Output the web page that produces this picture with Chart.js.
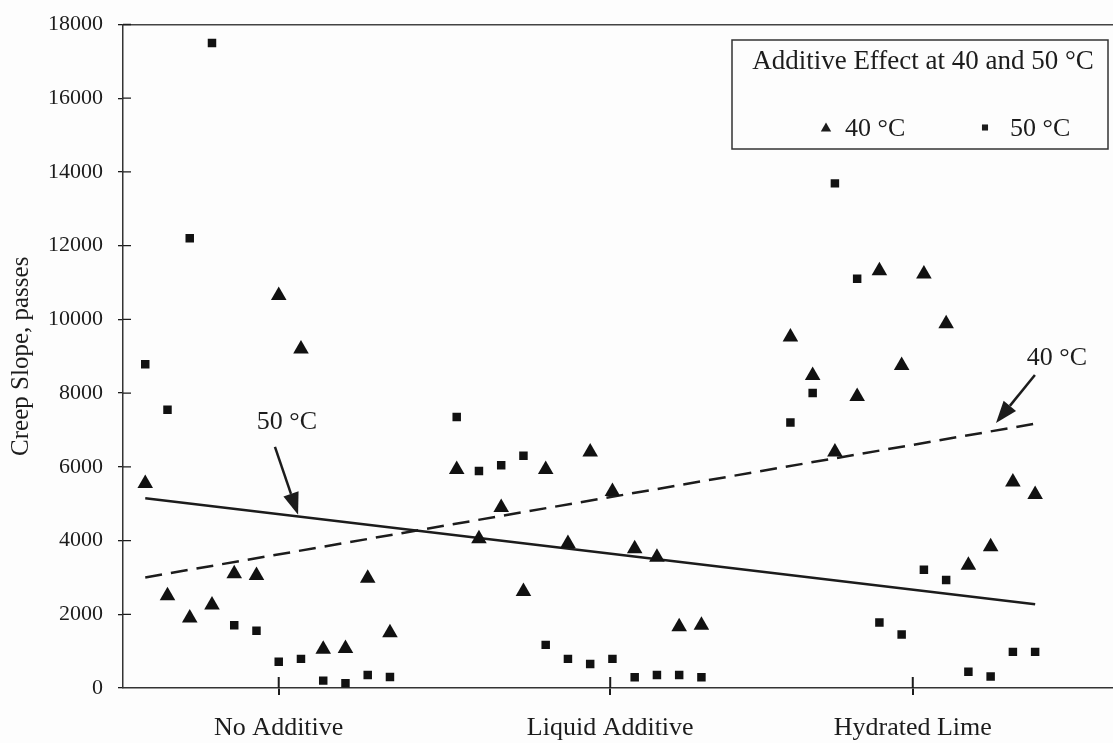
<!DOCTYPE html>
<html>
<head>
<meta charset="utf-8">
<script src="https://cdn.jsdelivr.net/npm/chart.js@4.4.1/dist/chart.umd.min.js"></script>
<style>
  html, body { margin: 0; padding: 0; background: #fdfdfd; overflow: hidden; }
  #wrap { width: 1113px; height: 743px; position: relative; }
  #creepChart { display: block; }
</style>
</head>
<body>
<div id="wrap"><canvas id="creepChart"></canvas></div>
<script>
// sample order along the x axis, three groups of twelve mixes
var groupNames = ['No Additive', 'Liquid Additive', 'Hydrated Lime'];
var groupTicks = [7, 21.9, 35.5];
var sampleX = [1, 2, 3, 4, 5, 6, 7, 8, 9, 10, 11, 12,
               15, 16, 17, 18, 19, 20, 21, 22, 23, 24, 25, 26,
               30, 31, 32, 33, 34, 35, 36, 37, 38, 39, 40, 41];

// creep slope (passes)
var creep40 = [5550, 2500, 1900, 2250, 3100, 3050, 10650, 9200, 1050, 1070, 2980, 1500,
               5930, 4050, 4900, 2620, 5930, 3920, 6400, 5330, 3780, 3550, 1660, 1700,
               9520, 8480, 6400, 7910, 11320, 8750, 11230, 9880, 3330, 3830, 5590, 5250];
var creep50 = [8780, 7550, 12200, 17500, 1700, 1550, 710, 790, 200, 130, 350, 300,
               7350, 5890, 6040, 6300, 1170, 790, 650, 790, 290, 350, 350, 290,
               7200, 8000, 13690, 11100, 1780, 1450, 3210, 2930, 440, 310, 980, 980];

// linear trend lines, end points
var trendX = [1, 41];
var trend40 = [3000, 7170];
var trend50 = [5150, 2270];

var seriesNames = ['40 °C', '50 °C'];
var legendTitle = 'Additive Effect at 40 and 50 °C';

// arrow labels pointing at the trend lines (data coordinates)
var callouts = [
  { text: '50 °C', at: [7.37, 7220], from: [6.83, 6540], to: [7.87, 4700] },
  { text: '40 °C', at: [41.98, 8955], from: [40.99, 8490], to: [39.24, 7190] }
];

var serif = '"Liberation Serif", "Times New Roman", serif';
var ink = '#1c1c1c';

function toPoints(xs, ys) {
  return xs.map(function(x, i) { return { x: x, y: ys[i] }; });
}

// keep the plot area fixed: no extra room reserved for edge labels
function noEdgePadding(scale) {
  scale.paddingTop = 0;
  scale.paddingBottom = 0;
  scale.paddingLeft = 0;
  scale.paddingRight = 0;
}

// tick marks that also cross into the plot area
var innerTicks = {
  id: 'innerTicks',
  afterDraw: function(chart) {
    var ctx = chart.ctx, area = chart.chartArea;
    var xs = chart.scales.x, ys = chart.scales.y;
    ctx.save();
    ctx.strokeStyle = ink;
    ctx.beginPath();
    ctx.lineWidth = 1.3;
    ys.ticks.forEach(function(t) {
      if (t.value === 0) return;
      var py = ys.getPixelForValue(t.value);
      ctx.moveTo(area.left, py);
      ctx.lineTo(area.left + 8, py);
    });
    ctx.stroke();
    ctx.beginPath();
    ctx.lineWidth = 2;
    xs.ticks.forEach(function(t) {
      var px = xs.getPixelForValue(t.value);
      ctx.moveTo(px, area.bottom);
      ctx.lineTo(px, area.bottom - 11);
    });
    ctx.stroke();
    ctx.restore();
  }
};

function arrow(ctx, x1, y1, x2, y2) {
  var ang = Math.atan2(y2 - y1, x2 - x1), len = 22, half = 8;
  var bx = x2 - Math.cos(ang) * len, by = y2 - Math.sin(ang) * len;
  ctx.beginPath();
  ctx.moveTo(x1, y1);
  ctx.lineTo(bx, by);
  ctx.stroke();
  ctx.beginPath();
  ctx.moveTo(x2, y2);
  ctx.lineTo(bx + Math.sin(ang) * half, by - Math.cos(ang) * half);
  ctx.lineTo(bx - Math.sin(ang) * half, by + Math.cos(ang) * half);
  ctx.closePath();
  ctx.fill();
}

var calloutLabels = {
  id: 'calloutLabels',
  afterDatasetsDraw: function(chart) {
    var ctx = chart.ctx, xs = chart.scales.x, ys = chart.scales.y;
    ctx.save();
    ctx.fillStyle = ink;
    ctx.strokeStyle = ink;
    ctx.lineWidth = 2.5;
    ctx.font = '26px ' + serif;
    ctx.textAlign = 'center';
    ctx.textBaseline = 'middle';
    callouts.forEach(function(c) {
      ctx.fillText(c.text, xs.getPixelForValue(c.at[0]), ys.getPixelForValue(c.at[1]));
      arrow(ctx,
        xs.getPixelForValue(c.from[0]), ys.getPixelForValue(c.from[1]),
        xs.getPixelForValue(c.to[0]), ys.getPixelForValue(c.to[1]));
    });
    ctx.restore();
  }
};

// boxed legend in the upper right corner of the plot
var legendBox = {
  id: 'legendBox',
  afterDraw: function(chart) {
    var ctx = chart.ctx, area = chart.chartArea;
    var w = 376, h = 109;
    var left = area.right - 381, top = area.top + 15.5;
    var sets = chart.data.datasets;
    ctx.save();
    ctx.fillStyle = '#fdfdfd';
    ctx.fillRect(left, top, w, h);
    ctx.strokeStyle = '#333';
    ctx.lineWidth = 1.5;
    ctx.strokeRect(left, top, w, h);

    ctx.fillStyle = ink;
    ctx.font = '27px ' + serif;
    ctx.textBaseline = 'alphabetic';
    ctx.textAlign = 'center';
    ctx.fillText(legendTitle, left + w / 2 + 3, top + 29);

    ctx.font = '26px ' + serif;
    ctx.textAlign = 'left';
    var items = [
      { ds: sets[0], mx: 94, tx: 113, r: 6, my: 88.5 },
      { ds: sets[1], mx: 253, tx: 278, r: 4.3, my: 87.5 }
    ];
    items.forEach(function(it) {
      Chart.helpers.drawPoint(ctx, { pointStyle: it.ds.pointStyle, radius: it.r, rotation: 0 },
        left + it.mx, top + it.my);
      ctx.fillText(it.ds.label, left + it.tx, top + 96);
    });
    ctx.restore();
  }
};

new Chart(document.getElementById('creepChart'), {
  type: 'scatter',
  data: {
    datasets: [
      {
        label: seriesNames[0],
        data: toPoints(sampleX, creep40),
        pointStyle: 'triangle',
        pointRadius: 9,
        backgroundColor: '#111',
        borderColor: '#111',
        borderWidth: 0
      },
      {
        label: seriesNames[1],
        data: toPoints(sampleX, creep50),
        pointStyle: 'rect',
        pointRadius: 6,
        backgroundColor: '#111',
        borderColor: '#111',
        borderWidth: 0
      },
      {
        label: 'trend 40',
        data: toPoints(trendX, trend40),
        showLine: true,
        borderColor: ink,
        borderWidth: 2.5,
        borderDash: [17, 9],
        pointRadius: 0
      },
      {
        label: 'trend 50',
        data: toPoints(trendX, trend50),
        showLine: true,
        borderColor: ink,
        borderWidth: 2.5,
        pointRadius: 0
      }
    ]
  },
  options: {
    responsive: true,
    maintainAspectRatio: false,
    animation: false,
    layout: { padding: 0, autoPadding: false },
    plugins: {
      legend: { display: false },
      tooltip: { enabled: false }
    },
    scales: {
      x: {
        type: 'linear',
        position: 'bottom',
        min: 0,
        max: 44.5,
        afterFit: function(scale) { scale.height = 55; noEdgePadding(scale); },
        afterBuildTicks: function(scale) {
          scale.ticks = groupTicks.map(function(v) { return { value: v }; });
        },
        grid: { drawOnChartArea: false, tickLength: 7, color: ink, lineWidth: 2 },
        border: { display: true, color: '#333', width: 1.5 },
        ticks: {
          autoSkip: false,
          maxRotation: 0,
          padding: 18,
          color: ink,
          font: { family: serif, size: 26 },
          callback: function(value, index) { return groupNames[index]; }
        }
      },
      xTop: {
        type: 'linear',
        position: 'top',
        min: 0,
        max: 44.5,
        afterFit: function(scale) { scale.height = 24.5; noEdgePadding(scale); },
        grid: { display: false },
        ticks: { display: false },
        border: { display: true, color: '#444', width: 1.5 }
      },
      y: {
        min: 0,
        max: 18000,
        afterFit: function(scale) { scale.width = 123; noEdgePadding(scale); },
        grid: { drawOnChartArea: false, tickLength: 5, color: ink, lineWidth: 1.3 },
        border: { display: true, color: '#333', width: 1.5 },
        ticks: {
          stepSize: 2000,
          padding: 15,
          color: ink,
          font: { family: serif, size: 22 },
          callback: function(v) { return String(v); }
        },
        title: {
          display: true,
          text: 'Creep Slope, passes',
          color: ink,
          font: { family: serif, size: 25 },
          padding: { top: 6, bottom: 0 }
        }
      }
    }
  },
  plugins: [innerTicks, calloutLabels, legendBox]
});
</script>
</body>
</html>
